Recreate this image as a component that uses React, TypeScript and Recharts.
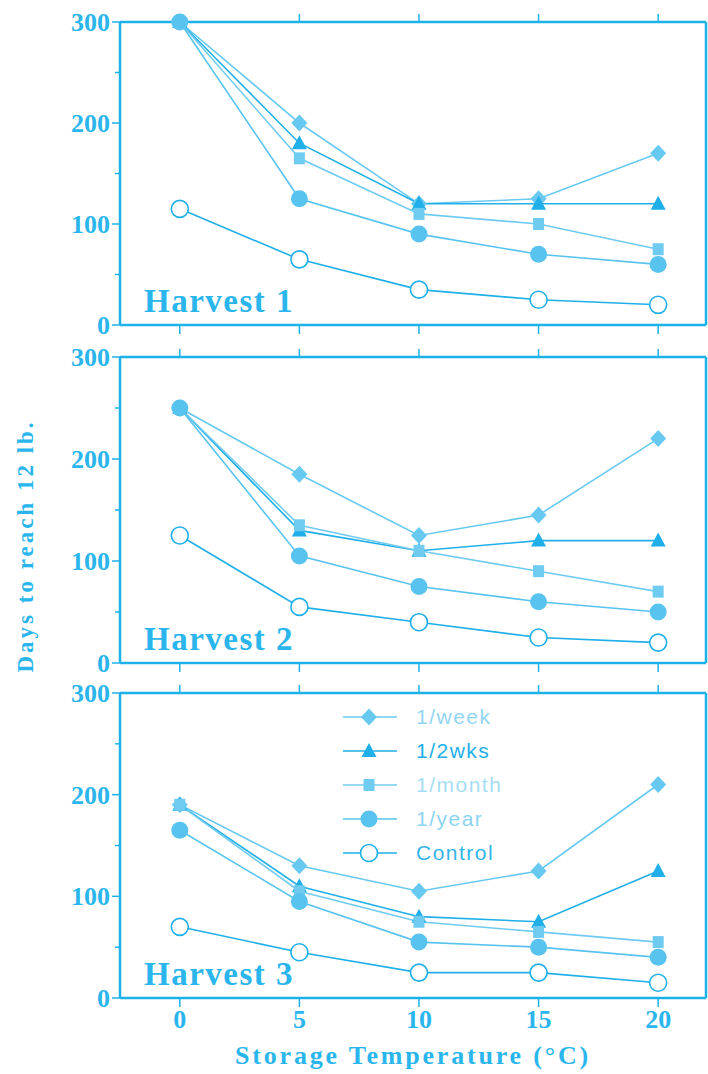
import React from 'react';
import { LineChart, Line, XAxis, YAxis, Legend, Label } from 'recharts';

const temps = [0, 5, 10, 15, 20];

const h1Week = [300, 200, 120, 125, 170];
const h1TwoWks = [300, 180, 120, 120, 120];
const h1Month = [300, 165, 110, 100, 75];
const h1Year = [300, 125, 90, 70, 60];
const h1Control = [115, 65, 35, 25, 20];

const h2Week = [250, 185, 125, 145, 220];
const h2TwoWks = [250, 130, 110, 120, 120];
const h2Month = [250, 135, 110, 90, 70];
const h2Year = [250, 105, 75, 60, 50];
const h2Control = [125, 55, 40, 25, 20];

const h3Week = [190, 130, 105, 125, 210];
const h3TwoWks = [190, 110, 80, 75, 125];
const h3Month = [190, 105, 75, 65, 55];
const h3Year = [165, 95, 55, 50, 40];
const h3Control = [70, 45, 25, 25, 15];

const xTicks = [0, 5, 10, 15, 20];
const yTicks = [0, 50, 100, 150, 200, 250, 300];
const yMajor = [0, 100, 200, 300];

const AXIS = '#1cb2e9';
const TXT = '#2ab6ec';
const SERIF = '"Liberation Serif", "DejaVu Serif", serif';
const SANS = '"Liberation Sans", Arial, sans-serif';

const series = [
  { key: 'week', name: '1/week', color: '#68c9f0', text: '#92d5f3', marker: 'diamond' },
  { key: 'twoWks', name: '1/2wks', color: '#20afe8', text: '#22afe8', marker: 'triangle' },
  { key: 'month', name: '1/month', color: '#70cbf1', text: '#a6ddf5', marker: 'square' },
  { key: 'year', name: '1/year', color: '#58c3ee', text: '#8dd3f3', marker: 'circle' },
  { key: 'control', name: 'Control', color: '#20afe8', text: '#33b5ea', marker: 'open' },
];

function build(week: number[], twoWks: number[], month: number[], year: number[], control: number[]) {
  return temps.map((t, i) => ({
    temp: t,
    week: week[i],
    twoWks: twoWks[i],
    month: month[i],
    year: year[i],
    control: control[i],
  }));
}

const panels = [
  { label: 'Harvest 1', data: build(h1Week, h1TwoWks, h1Month, h1Year, h1Control), top: 0, height: 340, mTop: 21, xh: 15 },
  { label: 'Harvest 2', data: build(h2Week, h2TwoWks, h2Month, h2Year, h2Control), top: 340, height: 340, mTop: 16, xh: 17 },
  { label: 'Harvest 3', data: build(h3Week, h3TwoWks, h3Month, h3Year, h3Control), top: 680, height: 394, mTop: 12, xh: 76 },
];

function Marker({ type, cx, cy, color }: { type: string; cx: number; cy: number; color: string }) {
  if (cx == null || cy == null) return null;
  switch (type) {
    case 'diamond':
      return <path d={`M${cx},${cy - 8.5}L${cx + 8},${cy}L${cx},${cy + 8.5}L${cx - 8},${cy}Z`} fill={color} />;
    case 'triangle':
      return <path d={`M${cx},${cy - 8}L${cx + 7.5},${cy + 6}L${cx - 7.5},${cy + 6}Z`} fill={color} />;
    case 'square':
      return <rect x={cx - 5.5} y={cy - 6} width={11} height={12} fill={color} />;
    case 'circle':
      return <circle cx={cx} cy={cy} r={8.5} fill={color} />;
    default:
      return <circle cx={cx} cy={cy} r={8.5} fill="#fff" stroke={color} strokeWidth={1.6} />;
  }
}

const EmptyTick = () => <g />;

function LeftTick(props: any) {
  const { x, y, payload } = props;
  const v = payload.value;
  const major = yMajor.includes(v);
  return (
    <g>
      <line x1={x - (major ? 8 : 5)} x2={x} y1={y} y2={y} stroke={AXIS} strokeWidth={1.5} />
      {major && (
        <text x={x - 10} y={y} dy={9} textAnchor="end" fill={TXT} fontFamily={SERIF} fontWeight="bold" fontSize={26}>
          {v}
        </text>
      )}
    </g>
  );
}

function LegendBox() {
  return (
    <div style={{ display: 'flex', flexDirection: 'column' }}>
      {series.map((s) => (
        <div key={s.key} style={{ display: 'flex', alignItems: 'center', height: 34 }}>
          <svg width={58} height={24}>
            <line x1={2} x2={56} y1={12} y2={12} stroke={s.color} strokeWidth={1.6} />
            <Marker type={s.marker} cx={28} cy={12} color={s.color} />
          </svg>
          <span style={{ marginLeft: 17, fontFamily: SANS, fontSize: 21, letterSpacing: 1.5, color: s.text }}>
            {s.name}
          </span>
        </div>
      ))}
    </div>
  );
}

function Panel({ p, idx }: { p: (typeof panels)[number]; idx: number }) {
  const last = idx === panels.length - 1;
  return (
    <div style={{ position: 'absolute', left: 0, top: p.top }}>
      <LineChart width={708} height={p.height} data={p.data} margin={{ top: p.mTop, right: 2, bottom: 0, left: 0 }}>
        <XAxis
          dataKey="temp"
          type="number"
          domain={[-2.5, 22]}
          allowDataOverflow
          ticks={xTicks}
          height={p.xh}
          stroke={AXIS}
          axisLine={{ stroke: AXIS, strokeWidth: 2.5 }}
          tickLine={{ stroke: AXIS, strokeWidth: 1.5 }}
          tickSize={9}
          tickMargin={3}
          tick={last ? { fill: TXT, fontFamily: SERIF, fontSize: 26, fontWeight: 'bold' } : EmptyTick}
        >
          {last && (
            <Label
              value="Storage Temperature (°C)"
              position="insideBottom"
              offset={10}
              fill={TXT}
              fontFamily={SERIF}
              fontWeight="bold"
              fontSize={26}
              letterSpacing={2.8}
            />
          )}
        </XAxis>
        <XAxis
          xAxisId="top"
          orientation="top"
          dataKey="temp"
          type="number"
          domain={[-2.5, 22]}
          allowDataOverflow
          ticks={xTicks}
          height={1}
          stroke={AXIS}
          axisLine={{ stroke: AXIS, strokeWidth: 2.5 }}
          tickLine={{ stroke: AXIS, strokeWidth: 1.5 }}
          tickSize={8}
          tick={EmptyTick}
        />
        <YAxis
          type="number"
          domain={[0, 300]}
          ticks={yTicks}
          width={120}
          axisLine={{ stroke: AXIS, strokeWidth: 2.5 }}
          tickLine={false}
          tickSize={0}
          tickMargin={0}
          tick={LeftTick}
          interval={0}
        >
          <Label
            content={(lp: any) => {
              const vb = lp.viewBox;
              return (
                <text
                  x={vb.x + vb.width + 24}
                  y={vb.y + vb.height - 13}
                  fill={TXT}
                  fontFamily={SERIF}
                  fontWeight="bold"
                  fontSize={33}
                  letterSpacing={1.5}
                >
                  {p.label}
                </text>
              );
            }}
          />
          {idx === 1 && (
            <Label
              content={(lp: any) => {
                const vb = lp.viewBox;
                const cx = vb.x + 25;
                const cy = vb.y + vb.height / 2 + 36;
                return (
                  <text
                    transform={`translate(${cx},${cy}) rotate(-90)`}
                    textAnchor="middle"
                    dominantBaseline="central"
                    fill={TXT}
                    fontFamily={SERIF}
                    fontWeight="bold"
                    fontSize={23}
                    letterSpacing={3}
                  >
                    Days to reach 12 lb.
                  </text>
                );
              }}
            />
          )}
        </YAxis>
        <YAxis
          yAxisId="right"
          orientation="right"
          mirror
          type="number"
          domain={[0, 300]}
          ticks={yMajor}
          width={1}
          stroke={AXIS}
          axisLine={{ stroke: AXIS, strokeWidth: 2.5 }}
          tickLine={{ stroke: AXIS, strokeWidth: 1.5 }}
          tickSize={8}
          tick={EmptyTick}
        />
        {series.map((s) => (
          <Line
            key={s.key}
            dataKey={s.key}
            name={s.name}
            type="linear"
            stroke={s.color}
            strokeWidth={1.6}
            isAnimationActive={false}
            dot={(dp: any) => <Marker key={`${s.key}-${dp.index}`} type={s.marker} cx={dp.cx} cy={dp.cy} color={s.color} />}
            activeDot={false}
          />
        ))}
        {last && (
          <Legend
            layout="vertical"
            verticalAlign="middle"
            align="center"
            content={() => <LegendBox />}
            wrapperStyle={{ position: 'absolute', left: 341, top: 20, width: 220 }}
          />
        )}
      </LineChart>
    </div>
  );
}

export default function App() {
  return (
    <div style={{ position: 'absolute', left: 0, top: 0, width: 708, height: 1074, background: '#fff' }}>
      {panels.map((p, i) => (
        <Panel key={p.label} p={p} idx={i} />
      ))}
    </div>
  );
}
